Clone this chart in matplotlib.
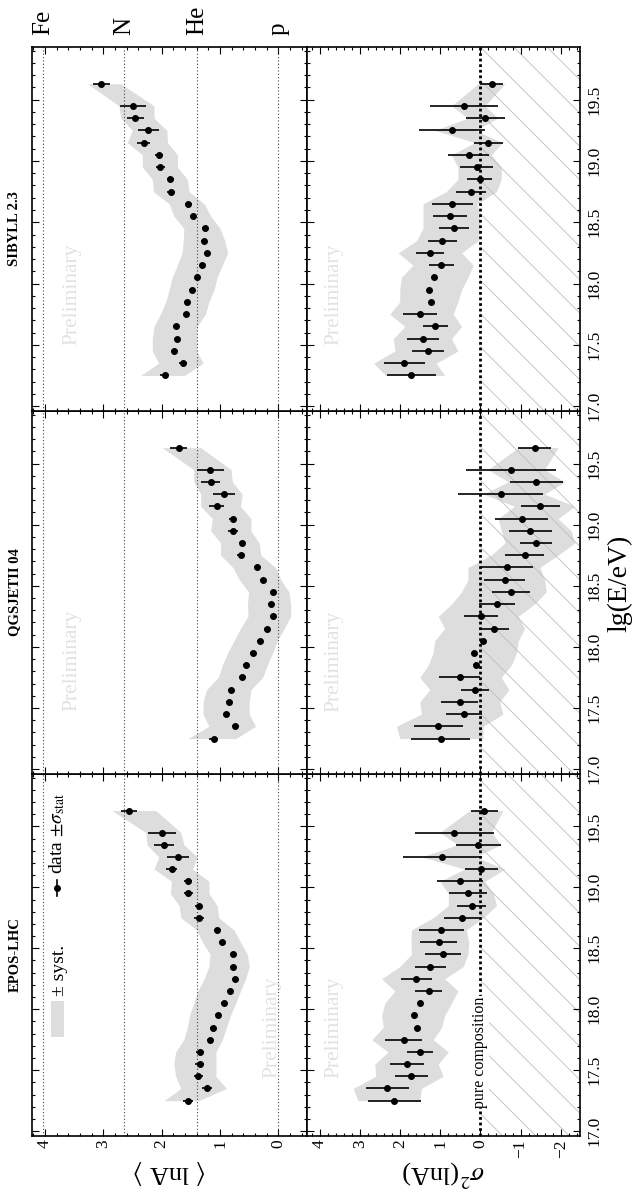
import numpy as np
import matplotlib.pyplot as plt
import matplotlib.transforms as mtransforms
from matplotlib.patches import Rectangle
from matplotlib.ticker import MultipleLocator

plt.rcParams['font.family'] = ['Liberation Serif', 'DejaVu Serif']
plt.rcParams['mathtext.fontset'] = 'stix'
plt.rcParams['hatch.linewidth'] = 0.6

# energy bins, lg(E/eV)
lg_e = [17.25, 17.35, 17.45, 17.55, 17.65, 17.75, 17.85, 17.95, 18.05, 18.15, 18.25, 18.35,
        18.45, 18.55, 18.65, 18.75, 18.85, 18.95, 19.05, 19.15, 19.25, 19.35, 19.45, 19.63]

# reference nuclei
comp_names = ['Fe', 'N', 'He', 'p']
comp_lna = [4.025, 2.639, 1.386, 0.0]

models = ['EPOS-LHC', 'QGSJETII 04', 'SIBYLL 2.3']

# EPOS-LHC
epos_lna = [1.55, 1.22, 1.37, 1.35, 1.34, 1.17, 1.12, 1.04, 0.93, 0.83, 0.75, 0.78,
            0.77, 0.96, 1.05, 1.36, 1.36, 1.54, 1.55, 1.83, 1.72, 1.96, 1.99, 2.56]
epos_lna_err = [0.08, 0.08, 0.08, 0.07, 0.07, 0.06, 0.05, 0.05, 0.05, 0.05, 0.05, 0.05,
                0.05, 0.05, 0.06, 0.08, 0.06, 0.085, 0.065, 0.10, 0.19, 0.17, 0.24, 0.14]
epos_lna_sys_hi = [1.96, 1.67, 1.76, 1.79, 1.76, 1.62, 1.56, 1.52, 1.45, 1.38, 1.27, 1.19,
                   1.17, 1.30, 1.40, 1.67, 1.70, 1.85, 1.83, 2.13, 2.05, 2.25, 2.27, 2.85]
epos_lna_sys_lo = [1.36, 0.89, 1.07, 1.07, 1.07, 0.96, 0.89, 0.82, 0.73, 0.65, 0.56, 0.50,
                   0.53, 0.65, 0.76, 1.02, 1.05, 1.19, 1.19, 1.47, 1.39, 1.62, 1.67, 2.10]
epos_var = [2.15, 2.32, 1.72, 1.83, 1.51, 1.91, 1.58, 1.65, 1.50, 1.29, 1.60, 1.25,
            0.93, 1.04, 0.97, 0.47, 0.22, 0.31, 0.51, -0.02, 0.95, 0.06, 0.65, -0.10]
epos_var_err = [0.66, 0.54, 0.41, 0.42, 0.32, 0.46, 0.07, 0.06, 0.05, 0.34, 0.39, 0.39,
                0.44, 0.46, 0.57, 0.43, 0.36, 0.48, 0.58, 0.41, 0.98, 0.56, 0.98, 0.34]
epos_var_sys_hi = [3.05, 3.17, 2.61, 2.63, 2.30, 2.71, 2.42, 2.46, 2.38, 2.13, 2.46, 2.01,
                   1.72, 1.73, 1.72, 1.18, 0.80, 0.80, 1.01, 0.39, 1.47, 0.56, 1.01, 0.27]
epos_var_sys_lo = [1.51, 1.47, 0.93, 1.05, 0.80, 1.18, 0.97, 0.89, 0.72, 0.56, 0.89, 0.43,
                   0.31, 0.29, 0.35, -0.07, -0.40, -0.32, -0.11, -0.61, 0.14, -0.52, -0.27, -0.56]

# QGSJETII-04
qgs_lna = [1.11, 0.74, 0.89, 0.84, 0.81, 0.62, 0.56, 0.44, 0.32, 0.20, 0.09, 0.12,
           0.09, 0.27, 0.36, 0.64, 0.62, 0.78, 0.78, 1.06, 0.93, 1.16, 1.17, 1.71]
qgs_lna_err = [0.08, 0.06, 0.06, 0.05, 0.05, 0.06, 0.05, 0.05, 0.05, 0.05, 0.05, 0.05,
               0.05, 0.05, 0.06, 0.07, 0.06, 0.08, 0.06, 0.12, 0.19, 0.16, 0.23, 0.145]
qgs_lna_sys_hi = [1.55, 1.19, 1.29, 1.29, 1.23, 1.03, 0.96, 0.87, 0.76, 0.65, 0.52, 0.53,
                  0.51, 0.67, 0.78, 0.99, 0.99, 1.16, 1.13, 1.33, 1.33, 1.45, 1.45, 1.99]
qgs_lna_sys_lo = [0.73, 0.39, 0.50, 0.50, 0.47, 0.27, 0.19, 0.10, 0.02, -0.10, -0.21, -0.21,
                  -0.18, -0.04, 0.05, 0.30, 0.33, 0.47, 0.47, 0.65, 0.62, 0.79, 0.81, 1.33]
qgs_var = [0.99, 1.05, 0.41, 0.52, 0.14, 0.51, 0.12, 0.15, -0.07, -0.33, -0.02, -0.41,
           -0.76, -0.61, -0.66, -1.10, -1.38, -1.24, -1.03, -1.49, -0.51, -1.39, -0.76, -1.35]
qgs_var_err = [0.73, 0.61, 0.45, 0.47, 0.35, 0.51, 0.07, 0.06, 0.05, 0.37, 0.42, 0.44,
               0.48, 0.51, 0.64, 0.48, 0.40, 0.54, 0.66, 0.48, 1.06, 0.66, 1.11, 0.41]
qgs_var_sys_hi = [2.01, 2.09, 1.47, 1.51, 1.26, 1.51, 1.30, 1.18, 1.14, 0.89, 1.05, 0.72,
                  0.47, 0.31, 0.31, -0.27, -0.61, -0.52, -0.44, -0.85, -0.07, -0.69, -0.19, -0.94]
qgs_var_sys_lo = [-0.06, -0.07, -0.56, -0.48, -0.71, -0.52, -0.77, -0.90, -0.94, -1.10, -0.94, -1.35,
                  -1.64, -1.60, -1.48, -1.93, -2.35, -2.26, -1.93, -2.35, -1.60, -2.10, -1.60, -1.93]

# SIBYLL 2.3
sib_lna = [1.95, 1.64, 1.78, 1.74, 1.75, 1.59, 1.56, 1.48, 1.39, 1.30, 1.22, 1.27,
           1.26, 1.46, 1.54, 1.84, 1.85, 2.02, 2.04, 2.31, 2.23, 2.45, 2.49, 3.03]
sib_lna_err = [0.08, 0.07, 0.06, 0.05, 0.05, 0.05, 0.05, 0.05, 0.04, 0.05, 0.05, 0.05,
               0.05, 0.05, 0.06, 0.07, 0.06, 0.08, 0.07, 0.11, 0.18, 0.15, 0.22, 0.14]
sib_lna_sys_hi = [2.36, 2.05, 2.16, 2.16, 2.13, 2.02, 1.93, 1.87, 1.82, 1.73, 1.65, 1.63,
                  1.62, 1.79, 1.87, 2.14, 2.16, 2.33, 2.33, 2.59, 2.50, 2.70, 2.73, 3.27]
sib_lna_sys_lo = [1.61, 1.29, 1.40, 1.40, 1.39, 1.25, 1.19, 1.10, 1.05, 0.96, 0.87, 0.92,
                  1.00, 1.16, 1.27, 1.53, 1.56, 1.73, 1.73, 1.90, 1.91, 2.13, 2.13, 2.70]
sib_var = [1.72, 1.90, 1.31, 1.43, 1.12, 1.51, 1.22, 1.27, 1.15, 0.97, 1.26, 0.95,
           0.66, 0.76, 0.70, 0.23, 0.02, 0.09, 0.29, -0.19, 0.70, -0.12, 0.41, -0.28]
sib_var_err = [0.61, 0.51, 0.39, 0.40, 0.30, 0.43, 0.06, 0.06, 0.05, 0.32, 0.35, 0.36,
               0.38, 0.42, 0.51, 0.38, 0.31, 0.41, 0.51, 0.36, 0.82, 0.49, 0.85, 0.28]
sib_var_sys_hi = [2.36, 2.66, 2.13, 2.17, 1.88, 2.26, 2.01, 2.01, 1.97, 1.68, 2.05, 1.59,
                  1.43, 1.43, 1.43, 0.85, 0.56, 0.56, 0.72, 0.14, 1.14, 0.31, 0.72, 0.06]
sib_var_sys_lo = [0.89, 1.10, 0.56, 0.72, 0.47, 0.68, 0.56, 0.47, 0.31, 0.18, 0.47, 0.06,
                  0.02, 0.02, 0.08, -0.40, -0.52, -0.52, -0.27, -0.55, 0.14, -0.44, -0.11, -0.61]

lna_data = [(epos_lna, epos_lna_err, epos_lna_sys_lo, epos_lna_sys_hi),
            (qgs_lna, qgs_lna_err, qgs_lna_sys_lo, qgs_lna_sys_hi),
            (sib_lna, sib_lna_err, sib_lna_sys_lo, sib_lna_sys_hi)]
var_data = [(epos_var, epos_var_err, epos_var_sys_lo, epos_var_sys_hi),
            (qgs_var, qgs_var_err, qgs_var_sys_lo, qgs_var_sys_hi),
            (sib_var, sib_var_err, sib_var_sys_lo, sib_var_sys_hi)]

band_col = '#dddddd'
prelim_col = '#e2e2e2'
W, H = 637, 1194
E_LIM = (16.96, 19.93)
LNA_LIM = (4.22, -0.49)
VAR_LIM = (4.32, -2.48)

fig = plt.figure(figsize=(W / 100, H / 100), dpi=100)

# panel rows in pixels (top, bottom); the whole figure is drawn turned by 90 degrees
rows = [(774, 1136), (411, 774), (47, 411)]
prelim_pos = [((0.873, 0.30), (0.10, 0.30)),
              ((0.145, 0.314), (0.10, 0.31)),
              ((0.145, 0.32), (0.10, 0.32))]


def style_axis(ax):
    ax.set_ylim(*E_LIM)
    ax.yaxis.set_major_locator(MultipleLocator(0.5))
    ax.yaxis.set_minor_locator(MultipleLocator(0.1))
    ax.xaxis.set_major_locator(MultipleLocator(1))
    ax.xaxis.set_minor_locator(MultipleLocator(0.2))
    ax.tick_params(which='both', direction='in', top=True, bottom=True, left=True, right=True,
                   labelleft=False, labelright=False, labelbottom=False, width=0.8)
    ax.tick_params(which='major', length=5)
    ax.tick_params(which='minor', length=2.5)
    for s in ax.spines.values():
        s.set_linewidth(1.2)


for i, name in enumerate(models):
    top, bot = rows[i]
    ax_l = fig.add_axes([32 / W, 1 - bot / H, 275 / W, (bot - top) / H])
    ax_r = fig.add_axes([307 / W, 1 - bot / H, 273 / W, (bot - top) / H])
    for ax in (ax_l, ax_r):
        style_axis(ax)

    # <lnA>
    lna, lna_err, lna_lo, lna_hi = lna_data[i]
    ax_l.set_xlim(*LNA_LIM)
    ax_l.fill_betweenx(lg_e, lna_lo, lna_hi, color=band_col, lw=0, zorder=1)
    for v in comp_lna:
        ax_l.axvline(v, color='#444444', ls=(0, (1, 2)), lw=0.8, zorder=2)
    ax_l.errorbar(lna, lg_e, xerr=lna_err, fmt='o', color='black', ms=4,
                  elinewidth=1.2, capsize=0, zorder=4)

    # sigma^2(lnA)
    var, var_err, var_lo, var_hi = var_data[i]
    ax_r.set_xlim(*VAR_LIM)
    ax_r.fill_betweenx(lg_e, var_lo, var_hi, color=band_col, lw=0, zorder=1)
    ax_r.fill_betweenx(E_LIM, 0, VAR_LIM[1], facecolor='none', edgecolor='#bdbdbd',
                       hatch='\\', lw=0, zorder=1.5)
    ax_r.axvline(0, color='black', ls=(0, (1, 1)), lw=2.0, zorder=2)
    ax_r.errorbar(var, lg_e, xerr=var_err, fmt='o', color='black', ms=4,
                  elinewidth=1.2, capsize=0, zorder=4)

    # energy labels on the right side
    ax_r.tick_params(axis='y', labelright=True, labelrotation=90, labelsize=12.5, pad=5)
    for lab in ax_r.get_yticklabels():
        lab.set_va('center')

    (pl, pr) = prelim_pos[i]
    ax_l.text(pl[0], pl[1], 'Preliminary', transform=ax_l.transAxes, rotation=90,
              color=prelim_col, fontsize=15.5, ha='center', va='center', zorder=0.5)
    ax_r.text(pr[0], pr[1], 'Preliminary', transform=ax_r.transAxes, rotation=90,
              color=prelim_col, fontsize=15.5, ha='center', va='center', zorder=0.5)

    ax_l.text(-0.062, 0.5, name, transform=ax_l.transAxes, rotation=90, ha='center',
              va='center', fontsize=10.5, fontweight='bold')

    if i == 0:
        for ax in (ax_l, ax_r):
            ax.tick_params(axis='x', labelbottom=True, labelrotation=90, labelsize=12.5, pad=2.5)
        # legend
        ax_l.add_patch(Rectangle((0.069, 0.273), 0.047, 0.10, transform=ax_l.transAxes,
                                 facecolor=band_col, edgecolor='none'))
        ax_l.text(0.10, 0.387, '± syst.', transform=ax_l.transAxes, rotation=90,
                  ha='center', va='bottom', fontsize=14)
        ax_l.plot([0.092, 0.092], [0.662, 0.708], transform=ax_l.transAxes,
                  color='black', lw=1.2)
        ax_l.plot([0.092], [0.685], 'o', transform=ax_l.transAxes, color='black', ms=4)
        ax_l.text(0.09, 0.724, r'data $\pm\sigma_{\rm stat}$', transform=ax_l.transAxes,
                  rotation=90, ha='center', va='bottom', fontsize=14)
        tr = mtransforms.blended_transform_factory(ax_r.transData, ax_r.transAxes)
        ax_r.text(0.0, 0.232, 'pure composition', transform=tr, rotation=90,
                  ha='center', va='center', fontsize=11.5, zorder=3,
                  bbox=dict(facecolor='white', edgecolor='none', pad=0.5))

    if i == 2:
        tr = mtransforms.blended_transform_factory(ax_l.transData, ax_l.transAxes)
        for nm, v in zip(comp_names, comp_lna):
            ax_l.text(v, 1.0 + 12 / 364, nm, transform=tr, rotation=90, ha='center',
                      va='bottom', fontsize=18)

# axis titles (turned with the figure)
fig.text(170 / W, 1 - 1173 / H, r'$\langle$ lnA $\rangle$', rotation=180,
         ha='center', va='center', fontsize=19)
fig.text(443 / W, 1 - 1173 / H, r'$\sigma^2$(lnA)', rotation=180,
         ha='center', va='center', fontsize=19)
fig.text(620 / W, 1 - 583 / H, 'lg(E/eV)', rotation=90,
         ha='center', va='center', fontsize=20)

fig.savefig('out.png', dpi=100)
